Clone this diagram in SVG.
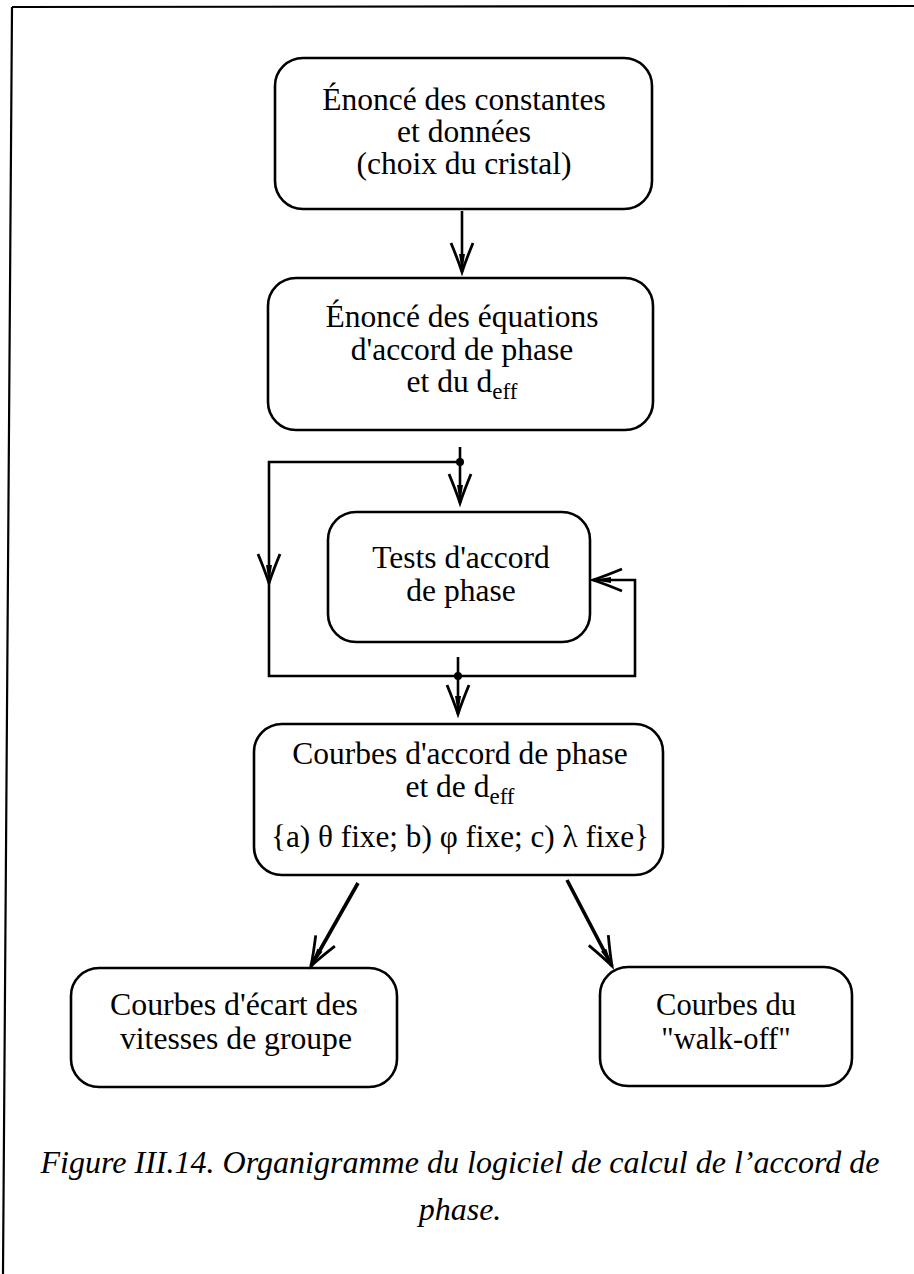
<svg xmlns="http://www.w3.org/2000/svg" width="914" height="1274" viewBox="0 0 914 1274">
<style>
.box{fill:none;stroke:#000;stroke-width:2.6}
.t{font-family:"Liberation Serif","Times New Roman",serif;font-size:31.5px;fill:#000;text-anchor:middle}
.s{font-size:30.5px}
.sub{font-size:23px}
.cap{font-family:"Liberation Serif","Times New Roman",serif;font-size:32px;font-style:italic;fill:#000;text-anchor:middle}
.con{fill:none;stroke:#000;stroke-width:2.6}
.dia{fill:none;stroke:#000;stroke-width:3.6}
.frame{fill:none;stroke:#000;stroke-width:2.2}
</style>
<defs>
<marker id="ah" markerUnits="userSpaceOnUse" orient="auto" refX="0" refY="0" markerWidth="40" markerHeight="30" viewBox="-32 -15 40 30" overflow="visible">
<path d="M-29,-11 Q-12,-4 0,0 Q-12,4 -29,11" fill="none" stroke="#000" stroke-width="2.8"/>
<path d="M-18,-3 L0,0 L-18,3 Z" fill="#000"/>
</marker>
</defs>
<rect width="914" height="1274" fill="#fff"/>
<g id="frame">
<path class="frame" d="M12,7 L914,6 M12,7 L3,1274"/>
</g>
<g id="connectors">
<line class="con" x1="462" y1="211" x2="462" y2="272" marker-end="url(#ah)"/>
<line class="con" x1="460" y1="447" x2="460" y2="503" marker-end="url(#ah)"/>
<polyline class="con" points="460,462 269,462 269,583" marker-end="url(#ah)"/>
<polyline class="con" points="269,583 269,676 635,676 635,580 593,580" marker-end="url(#ah)"/>
<line class="con" x1="458" y1="657" x2="458" y2="714" marker-end="url(#ah)"/>
<circle cx="460" cy="462" r="4" fill="#000"/>
<circle cx="458" cy="676" r="4" fill="#000"/>
<line class="dia" x1="358" y1="883" x2="311" y2="966" marker-end="url(#ah)"/>
<line class="dia" x1="567" y1="880" x2="612" y2="966" marker-end="url(#ah)"/>
</g>
<g id="n1">
<rect class="box" x="275" y="58" width="377" height="151" rx="28"/>
<text class="t" x="464" y="110">Énoncé des constantes</text>
<text class="t" x="464" y="142">et données</text>
<text class="t" x="464" y="174">(choix du cristal)</text>
</g>
<g id="n2">
<rect class="box" x="268" y="278" width="385" height="152" rx="28"/>
<text class="t" x="462" y="327">Énoncé des équations</text>
<text class="t" x="462" y="360">d'accord de phase</text>
<text class="t" x="462" y="392">et du d<tspan class="sub" dy="7">eff</tspan></text>
</g>
<g id="n3">
<rect class="box" x="328" y="512" width="262" height="130" rx="28"/>
<text class="t" x="461" y="568">Tests d'accord</text>
<text class="t" x="461" y="601">de phase</text>
</g>
<g id="n4">
<rect class="box" x="254" y="724" width="409" height="151" rx="28"/>
<text class="t" x="460" y="764">Courbes d'accord de phase</text>
<text class="t" x="460" y="797">et de d<tspan class="sub" dy="7">eff</tspan></text>
<text class="t" x="460" y="847" textLength="378" lengthAdjust="spacingAndGlyphs">{a) θ fixe; b) φ fixe; c) λ fixe}</text>
</g>
<g id="n5">
<rect class="box" x="71" y="968" width="326" height="119" rx="28"/>
<text class="t s" x="234" y="1015" textLength="248" lengthAdjust="spacingAndGlyphs">Courbes d'écart des</text>
<text class="t s" x="236" y="1049" textLength="232" lengthAdjust="spacingAndGlyphs">vitesses de groupe</text>
</g>
<g id="n6">
<rect class="box" x="600" y="967" width="252" height="119" rx="28"/>
<text class="t s" x="726" y="1015">Courbes du</text>
<text class="t s" x="726" y="1049">"walk-off"</text>
</g>
<g id="caption">
<text class="cap" x="460" y="1173" textLength="839" lengthAdjust="spacingAndGlyphs">Figure III.14. Organigramme du logiciel de calcul de l’accord de</text>
<text class="cap" x="460" y="1220">phase.</text>
</g>
</svg>
